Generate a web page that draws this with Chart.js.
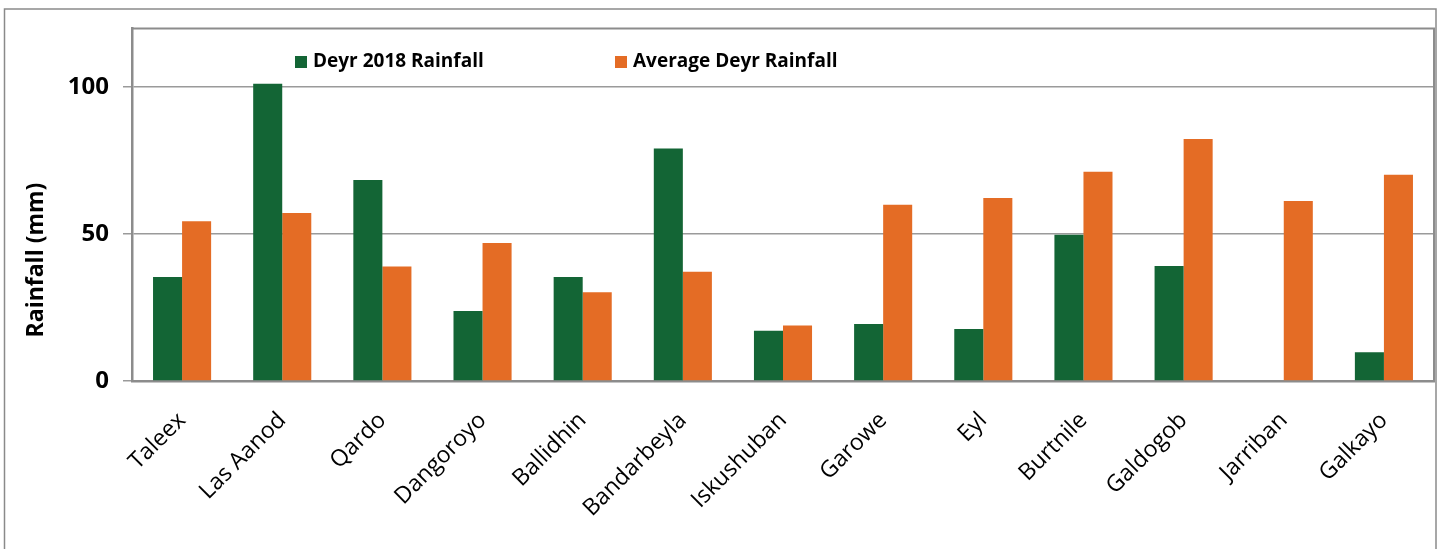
<!DOCTYPE html>
<html>
<head>
<meta charset="utf-8">
<script src="https://cdn.jsdelivr.net/npm/chart.js@4/dist/chart.umd.min.js"></script>
<style>
  html, body { margin: 0; padding: 0; background: #fff; }
  #wrap { width: 1440px; height: 549px; position: relative; }
</style>
</head>
<body>
<div id="wrap"><canvas id="c" width="1440" height="549"></canvas></div>
<script>
// Station names along the x axis
const stations = ['Taleex', 'Las Aanod', 'Qardo', 'Dangoroyo', 'Ballidhin', 'Bandarbeyla',
  'Iskushuban', 'Garowe', 'Eyl', 'Burtnile', 'Galdogob', 'Jarriban', 'Galkayo'];

// Seasonal rainfall totals (mm)
const deyr2018 = [35.4, 101.2, 68.4, 23.8, 35.4, 79.1, 17.1, 19.4, 17.7, 49.8, 39.1, null, 9.8];
const deyrAverage = [54.4, 57.2, 39.0, 47.0, 30.2, 37.2, 18.9, 60.0, 62.3, 71.2, 82.4, 61.3, 70.2];

// Y axis tick values
const yTicks = [0, 50, 100];

const seriesNames = ['Deyr 2018 Rainfall', 'Average Deyr Rainfall'];
const GREEN = '#136535';
const ORANGE = '#E46C25';
const FONT = "'Open Sans', 'Noto Sans', sans-serif";

// Frame around the whole chart, the plot box, legend and rotated axis title
const decorations = {
  id: 'decorations',
  beforeDraw(chart) {
    const ctx = chart.ctx;
    ctx.save();
    ctx.fillStyle = '#fff';
    ctx.fillRect(0, 0, chart.width, chart.height);
    ctx.strokeStyle = '#8a8a8a';
    ctx.lineWidth = 1.5;
    ctx.strokeRect(4.5, 9, 1431.5, 600);
    ctx.restore();
  },
  afterDraw(chart) {
    const ctx = chart.ctx;
    const a = chart.chartArea;
    ctx.save();
    // plot box (top and right edges)
    ctx.strokeStyle = '#8c8c8c';
    ctx.lineWidth = 2;
    ctx.beginPath();
    ctx.moveTo(a.left, a.top);
    ctx.lineTo(a.right, a.top);
    ctx.lineTo(a.right, a.bottom);
    ctx.stroke();

    // legend inside the plot area
    const items = [
      { x: 295, color: GREEN, text: seriesNames[0] },
      { x: 615, color: ORANGE, text: seriesNames[1] }
    ];
    ctx.font = `bold 19px ${FONT}`;
    ctx.textBaseline = 'middle';
    ctx.textAlign = 'left';
    items.forEach(it => {
      ctx.fillStyle = it.color;
      ctx.fillRect(it.x, 56, 12, 12);
      ctx.fillStyle = '#000';
      ctx.fillText(it.text, it.x + 18, 62);
    });

    // y axis title
    ctx.translate(36, 260);
    ctx.rotate(-Math.PI / 2);
    ctx.textAlign = 'center';
    ctx.textBaseline = 'middle';
    ctx.font = `bold 23px ${FONT}`;
    ctx.fillStyle = '#000';
    ctx.fillText('Rainfall (mm)', 0, 0);
    ctx.restore();
  }
};

new Chart(document.getElementById('c'), {
  type: 'bar',
  data: {
    labels: stations,
    datasets: [
      { label: seriesNames[0], data: deyr2018, backgroundColor: GREEN, borderWidth: 0 },
      { label: seriesNames[1], data: deyrAverage, backgroundColor: ORANGE, borderWidth: 0 }
    ]
  },
  options: {
    responsive: false,
    animation: false,
    devicePixelRatio: 1,
    layout: { padding: { top: 27, right: 6, left: 0, bottom: 0 } },
    datasets: { bar: { categoryPercentage: 0.58, barPercentage: 1.0 } },
    plugins: {
      legend: { display: false },
      tooltip: { enabled: false }
    },
    scales: {
      x: {
        grid: { display: false, drawTicks: false },
        border: { display: true, color: '#8c8c8c', width: 2.5 },
        ticks: {
          minRotation: 45, maxRotation: 45, autoSkip: false,
          padding: 26,
          color: '#000',
          font: { family: FONT, size: 23 }
        },
        afterFit(s) { s.height = 168; }
      },
      y: {
        min: 0, max: 120,
        ticks: {
          stepSize: 50,
          padding: 14,
          color: '#000',
          font: { family: FONT, size: 24, weight: 'bold' }
        },
        afterBuildTicks(s) { s.ticks = yTicks.map(v => ({ value: v })); },
        grid: { color: '#9a9a9a', lineWidth: 1.5, tickLength: 9, drawTicks: true },
        border: { display: true, color: '#8c8c8c', width: 2.5 },
        afterFit(s) { s.width = 132; }
      }
    }
  },
  plugins: [decorations]
});
</script>
</body>
</html>
